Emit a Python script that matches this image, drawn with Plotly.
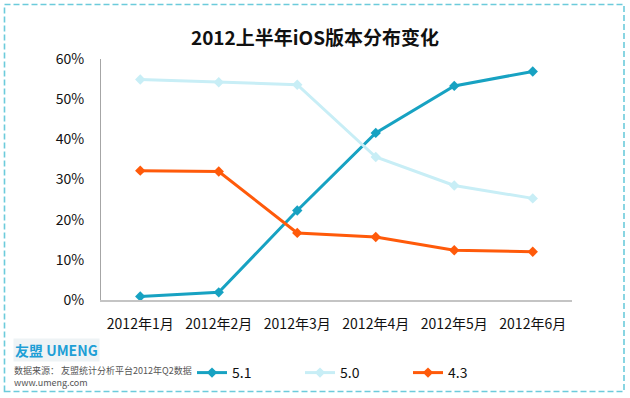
import plotly.graph_objects as go

months = ["2012年1月", "2012年2月", "2012年3月", "2012年4月", "2012年5月", "2012年6月"]
v51 = [0.9, 1.9, 22.3, 41.6, 53.3, 56.9]
v50 = [54.9, 54.2, 53.6, 35.6, 28.5, 25.3]
v43 = [32.2, 32.0, 16.7, 15.7, 12.4, 12.0]
y_ticks = [0, 10, 20, 30, 40, 50, 60]
y_tick_labels = ["0%", "10%", "20%", "30%", "40%", "50%", "60%"]

W, H = 630, 398
ML, MR, MT, MB = 101, 58, 59, 98
PW, PH = W - ML - MR, H - MT - MB

FONT = "Noto Sans CJK SC, Noto Sans, sans-serif"

series = [
    ("5.1", v51, "#17a2c2"),
    ("5.0", v50, "#c8eef6"),
    ("4.3", v43, "#ff5a0a"),
]

fig = go.Figure()
for name, vals, col in series:
    fig.add_trace(go.Scatter(
        x=months, y=vals, name=name, mode="lines+markers",
        line=dict(color=col, width=3),
        marker=dict(symbol="diamond", size=8, color=col),
        hoverinfo="skip",
    ))

def px_to_paper_x(px):
    return (px - ML) / PW

def px_to_paper_y(py):
    return (H - MB - py) / PH

fig.add_shape(type="rect", xref="paper", yref="paper",
              x0=px_to_paper_x(4.5), x1=px_to_paper_x(624),
              y0=px_to_paper_y(391.5), y1=px_to_paper_y(4.5),
              line=dict(color="#6ccbdb", width=1.6, dash="6px,3px"),
              layer="below")

fig.update_layout(
    width=W, height=H,
    margin=dict(l=ML, r=MR, t=MT, b=MB),
    paper_bgcolor="white", plot_bgcolor="white",
    font=dict(family=FONT, color="#111111", size=14),
    title=dict(text="<b>2012上半年iOS版本分布变化</b>", x=0.5, xref="container",
               xanchor="center", y=1 - 38 / H, yanchor="middle", yref="container",
               font=dict(size=19, color="#111111", family=FONT)),
    showlegend=True,
    legend=dict(orientation="h", xref="container", yref="container",
                x=192 / W, xanchor="left", y=1 - 373 / H, yanchor="middle",
                font=dict(size=14, color="#111111", family=FONT),
                entrywidth=63, entrywidthmode="pixels",
                bgcolor="rgba(0,0,0,0)", traceorder="normal"),
    xaxis=dict(type="category", range=[-0.5, 5.5], showline=True,
               linecolor="#c4c4c4", linewidth=1.5, showgrid=False,
               zeroline=False, ticks="", ticklabelstandoff=10,
               tickfont=dict(size=14, color="#111111")),
    yaxis=dict(range=[0, 60], tickvals=y_ticks, ticktext=y_tick_labels,
               showline=True, linecolor="#a6a6a6", linewidth=1.2,
               showgrid=False, zeroline=False, ticks="",
               ticklabelstandoff=13,
               tickfont=dict(size=14, color="#111111")),
)

fig.add_annotation(text="<b>友盟 UMENG</b>", xref="paper", yref="paper",
                   x=px_to_paper_x(13), y=px_to_paper_y(350), xanchor="left",
                   yanchor="middle", showarrow=False,
                   font=dict(size=14, color="#1e9fd6", family=FONT),
                   bgcolor="#eef3f5")
fig.add_annotation(text="数据来源： 友盟统计分析平台2012年Q2数据<br>www.umeng.com",
                   xref="paper", yref="paper", align="left",
                   x=px_to_paper_x(12), y=px_to_paper_y(376), xanchor="left",
                   yanchor="middle", showarrow=False,
                   font=dict(size=9, color="#555555", family=FONT))

fig.write_html("out.html", config={"displayModeBar": False})

with open("out.html", "r", encoding="utf-8") as f:
    html = f.read()
html = html.replace("<head>", "<head><style>html,body{margin:0;padding:0;}</style>", 1)
with open("out.html", "w", encoding="utf-8") as f:
    f.write(html)
